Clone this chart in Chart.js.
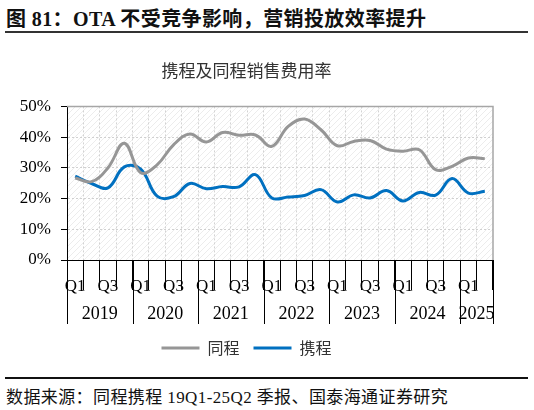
<!DOCTYPE html>
<html>
<head>
<meta charset="utf-8">
<script src="https://cdn.jsdelivr.net/npm/chart.js@4.4.1/dist/chart.umd.min.js"></script>
<style>
body{margin:0;background:#fff;width:534px;height:410px;overflow:hidden;position:relative}
#hd{position:absolute;left:6px;top:3px;font:bold 20px "Liberation Serif","Noto Sans CJK SC",serif;color:#111;white-space:nowrap;letter-spacing:0.4px}
#hl{position:absolute;left:5px;right:6px;top:31px;border-top:2px solid #333}
#box{position:absolute;left:0;top:38px;width:534px;height:334px}
#fl{position:absolute;left:5px;right:6px;top:377px;border-top:2px solid #111}
#src{position:absolute;left:6px;top:383px;font:17px "Liberation Serif","Noto Sans CJK SC",serif;color:#111;white-space:nowrap;letter-spacing:0.4px}
</style>
</head>
<body>
<div id="hd">图 81：OTA 不受竞争影响，营销投放效率提升</div>
<div id="hl"></div>
<div id="box"><canvas id="myChart"></canvas></div>
<div id="fl"></div>
<div id="src">数据来源：同程携程 19Q1-25Q2 季报、国泰海通证券研究</div>
<script>
// quarters along the x-axis, 19Q1 - 25Q2
var quarters = ['Q1','Q2','Q3','Q4','Q1','Q2','Q3','Q4','Q1','Q2','Q3','Q4',
                'Q1','Q2','Q3','Q4','Q1','Q2','Q3','Q4','Q1','Q2','Q3','Q4','Q1','Q2'];
// year groups under the quarters
var years = ['2019','2020','2021','2022','2023','2024','2025'];
var yearSize = [4,4,4,4,4,4,2];
// selling expense ratio, %
var tongcheng = [26.7,25.5,30,38,28.4,31,37.5,41,38.4,41.5,40.6,40.7,37,
                 43.5,45.9,42.4,37.2,38.6,38.9,36.1,35.4,35.9,29.4,30.5,33.2,33];
var xiecheng = [27.3,24.9,23.5,30.3,29.6,20.8,20.6,24.9,23.2,23.9,23.8,27.8,20.2,
                20.5,21,22.9,18.9,21.2,20.2,22.6,19.2,22,21.1,26.5,21.8,22.4];
var yTicks = [0,10,20,30,40,50];

var serif = '"Liberation Serif", "Times New Roman", serif';
var sans = '"Noto Sans CJK SC", "Noto Sans", sans-serif';

// hatch background, frame and the year row of the axis
var extras = {
  id: 'extras',
  beforeDraw: function(chart) {
    var a = chart.chartArea, ctx = chart.ctx;
    var p = document.createElement('canvas');
    p.width = 6; p.height = 6;
    var pc = p.getContext('2d');
    pc.strokeStyle = '#ececec';
    pc.lineWidth = 1;
    pc.beginPath(); pc.moveTo(0, 6); pc.lineTo(6, 0); pc.stroke();
    ctx.save();
    ctx.fillStyle = ctx.createPattern(p, 'repeat');
    ctx.fillRect(a.left, a.top, a.right - a.left, a.bottom - a.top);
    ctx.restore();
  },
  beforeDatasetsDraw: function(chart) {
    var a = chart.chartArea, ctx = chart.ctx;
    ctx.save();
    ctx.strokeStyle = '#a6a6a6';
    ctx.lineWidth = 1.5;
    ctx.beginPath();
    ctx.moveTo(a.left, a.top); ctx.lineTo(a.right, a.top); ctx.lineTo(a.right, a.bottom);
    ctx.stroke();
    ctx.restore();
  },
  afterDraw: function(chart) {
    var x = chart.scales.x, a = chart.chartArea, ctx = chart.ctx;
    var step = x.getPixelForValue(1) - x.getPixelForValue(0);
    var edge = function(i) { return x.getPixelForValue(i) - step / 2; };
    ctx.save();
    ctx.strokeStyle = '#000';
    ctx.fillStyle = '#000';
    ctx.lineWidth = 1;
    ctx.font = '18px ' + serif;
    ctx.textAlign = 'center';
    ctx.textBaseline = 'middle';
    var start = 0;
    for (var k = 0; k <= years.length; k++) {
      var px = Math.round(edge(start)) + 0.5;
      ctx.beginPath(); ctx.moveTo(px, a.bottom); ctx.lineTo(px, a.bottom + 64); ctx.stroke();
      if (k < years.length) {
        var end = start + yearSize[k];
        ctx.fillText(years[k], (edge(start) + edge(end)) / 2, a.bottom + 54);
        start = end;
      }
    }
    ctx.restore();
  }
};

var ctx = document.getElementById('myChart');
var myChart = new Chart(ctx, {
  type: 'line',
  data: {
    labels: quarters,
    datasets: [
      {
        label: '同程',
        data: tongcheng,
        borderColor: '#969696',
        backgroundColor: '#969696',
        borderWidth: 3,
        pointRadius: 0,
        tension: 0.4,
        fill: false
      },
      {
        label: '携程',
        data: xiecheng,
        borderColor: '#0070c0',
        backgroundColor: '#0070c0',
        borderWidth: 3,
        pointRadius: 0,
        tension: 0.4,
        fill: false
      }
    ]
  },
  options: {
    responsive: true,
    maintainAspectRatio: false,
    animation: false,
    layout: { padding: { left: 0, right: 41, top: 0, bottom: 6 } },
    plugins: {
      title: {
        display: true,
        text: '携程及同程销售费用率',
        color: '#333',
        font: { family: sans, size: 17, weight: 'normal' },
        padding: { top: 22, bottom: 26 }
      },
      legend: {
        position: 'bottom',
        labels: {
          usePointStyle: true,
          pointStyle: 'line',
          pointStyleWidth: 38,
          color: '#333',
          font: { family: sans, size: 16 },
          padding: 14
        }
      },
      tooltip: { enabled: false }
    },
    scales: {
      x: {
        offset: true,
        grid: {
          offset: true,
          color: function(c) { return (c.index === 0 || c.index === undefined) ? 'rgba(0,0,0,0)' : '#d3d3d3'; },
          tickColor: '#000',
          tickLength: 30,
          tickBorderDash: []
        },
        border: { color: '#000', width: 1, dash: [2, 2] },
        ticks: {
          autoSkip: false,
          maxRotation: 0,
          padding: -14,
          color: '#000',
          font: { family: serif, size: 17 },
          callback: function(v, i) { return i % 2 === 0 ? quarters[i] : ''; }
        },
        afterFit: function(s) { s.height = 66; }
      },
      y: {
        min: 0,
        max: 50,
        afterBuildTicks: function(s) { s.ticks = yTicks.map(function(v) { return { value: v }; }); },
        grid: {
          color: function(c) { return (c.tick && c.tick.value === 0) ? 'rgba(0,0,0,0)' : '#d0d0d0'; },
          tickColor: '#000',
          tickLength: 6,
          tickBorderDash: []
        },
        border: { color: '#000', width: 1, dash: [2, 2] },
        ticks: {
          padding: 10,
          color: '#000',
          font: { family: serif, size: 17 },
          callback: function(v) { return v + '%'; }
        },
        afterFit: function(s) { s.width = 67; }
      }
    }
  },
  plugins: [extras]
});
</script>
</body>
</html>
